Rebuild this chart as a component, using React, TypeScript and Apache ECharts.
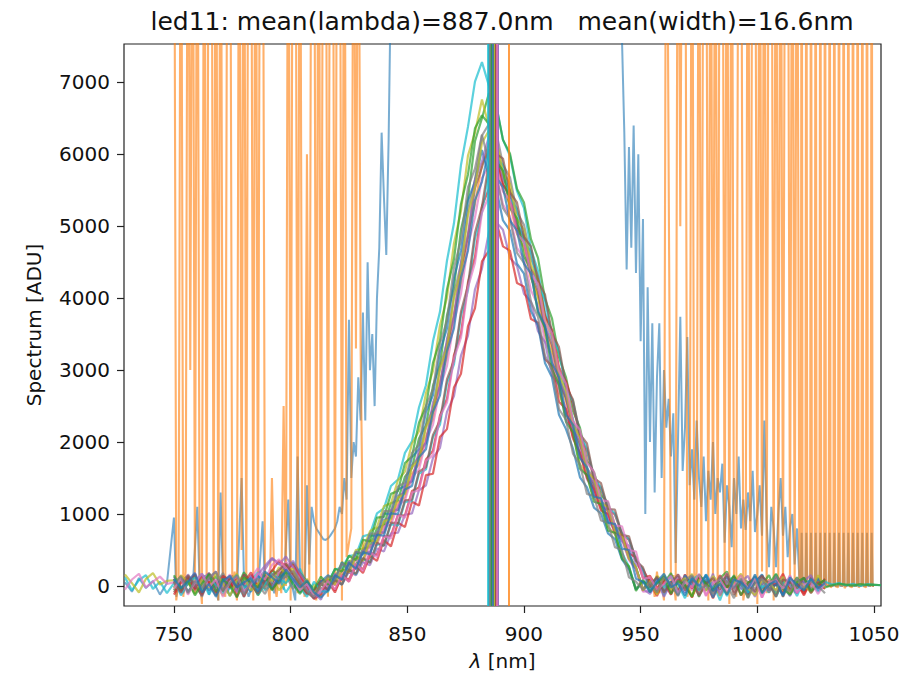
import React, { useEffect, useRef } from "react";
import * as echarts from "echarts";

const TITLE = "led11: mean(lambda)=887.0nm   mean(width)=16.6nm";
const xTicks = [750, 800, 850, 900, 950, 1000, 1050];
const yTicks = [0, 1000, 2000, 3000, 4000, 5000, 6000, 7000];

const lamLeft = [729, 732, 735, 738, 741, 744, 747];
const lamMain = [750,753,756,759,762,765,768,771,774,777,780,783,786,789,792,795,798,801,804,807,810,813,816,819,822,825,828,831,834,837,840,843,846,849,852,855,858,861,864,867,870,873,876,879,882,885,888,891,894,897,900,903,906,909,912,915,918,921,924,927,930,933,936,939,942,945,948,951,954,957,960,963,966,969,972,975,978,981,984,987,990,993,996,999,1002,1005,1008,1011,1014,1017,1020,1023,1026,1029];
const lamRight = [1032, 1035, 1038, 1041, 1044, 1047, 1050, 1053];

const spec01 = [40,-80,120,-30,90,-120,60,150,-40,20,-150,80,190,-60,30,110,-90,60,240,10,-110,50,
60,230,250,420,430,690,720,1010,1080,1390,1480,1850,2010,2480,2790,3400,3810,4520,5040,5850,6380,7010,7280,6950,6700,6200,5980,5490,5250,4680,4380,3800,3500,2920,2620,2320,1840,1660,1330,1220,900,790,460,270,-40,60,
-40,120,-130,60,20,-170,90,150,-60,40,-200,70,130,-30,-120,80,10,-90,160,-50,40,-140,90,30,-70,60];
const spec01Left = [120,-60,80,150,-40,60,-100];
const spec01Right = [20,40,10,30,0,25,15,10];

const spec02 = [-60,90,20,160,-110,40,130,-70,80,-20,190,60,-130,30,220,140,280,320,180,60,-140,30,
-50,140,110,350,290,520,540,800,850,1150,1190,1520,1640,2050,2230,2780,3080,3760,4150,4950,5380,6180,6500,6850,6700,6200,6010,5520,5330,4820,4560,3990,3720,3180,2900,2430,2200,1740,1580,1260,1160,840,740,430,260,-50,
90,-100,40,180,-60,20,130,-150,70,-30,110,200,-80,40,-160,90,20,150,-110,60,-40,120,-70,30,90,-20];
const spec02Right = [10,30,20,5,25,15,20,10];

const spec03 = [80,-40,150,30,-90,110,20,-130,60,170,-20,90,-100,40,130,-60,50,200,90,-80,20,-150,
130,120,330,290,500,520,760,820,1110,1150,1470,1590,1980,2150,2680,2990,3620,4010,4760,5210,5980,6300,6760,6380,6160,5700,5490,5030,4820,4290,4020,3490,3220,2680,2410,2130,1690,1530,1220,1120,820,720,420,250,-40,70,
-30,140,50,-90,110,-20,170,-110,30,80,-140,60,10,150,-70,40,-120,90,20,-60,130,-30,70,-90,40,10];
const spec03Left = [160,40,-90,100,180,20,70];

const spec04 = [30,130,-80,60,-150,100,40,180,-30,90,-70,140,20,-110,80,30,150,-40,100,-120,-60,70,
70,20,230,200,410,360,620,620,920,950,1250,1300,1680,1790,2230,2460,3040,3380,4050,4480,5220,5650,6260,6420,6330,5850,5680,5190,5020,4550,4310,3760,3530,2990,2750,2290,2070,1640,1490,1180,1100,790,700,400,250,-60,
60,-80,130,20,-120,90,-40,150,40,-100,70,10,-170,100,60,-50,140,-90,30,80,-130,50,110,-40,20,70];

const spec05 = [-90,60,140,-40,80,20,-130,110,50,-60,160,30,-100,90,10,170,240,120,-50,80,-160,-30,
-40,150,90,330,250,480,460,720,740,1030,1060,1370,1460,1830,1990,2480,2760,3350,3720,4410,4840,5530,5820,6150,6010,5580,5400,4950,4780,4330,4100,3590,3350,2850,2610,2180,1980,1560,1420,1120,1050,750,670,380,240,-70,
110,-60,20,150,-90,40,-150,80,130,-20,60,-110,90,30,-70,140,-40,10,100,-150,60,20,-80,120,-30,50];

const spec06 = [50,-110,70,180,-20,130,-70,40,160,-90,20,110,250,80,-40,190,330,260,150,-30,-130,40,
60,10,210,180,360,330,560,570,830,850,1120,1190,1510,1620,2010,2240,2750,3060,3670,4060,4730,5120,5670,5840,5730,5300,5140,4700,4550,4110,3900,3400,3190,2700,2480,2080,1880,1480,1350,1070,990,720,640,360,230,-80,
-70,100,30,-120,160,40,-60,120,-140,70,20,180,-90,50,-30,110,-160,80,40,-50,150,-100,60,10,-40,90];
const spec06Left = [-50,90,170,-20,60,130,30];

const spec07 = [-120,40,110,-60,150,30,-90,80,-20,130,-150,60,20,170,-50,90,230,300,140,-10,-180,-120,
90,-60,130,90,300,230,460,430,690,700,990,980,1320,1370,1760,1880,2370,2600,3210,3510,4220,4570,5280,5520,5960,5580,5440,4990,4850,4400,4260,3750,3560,3040,2850,2530,2070,1880,1480,1350,1070,990,720,640,360,230,
50,-140,90,10,-80,160,-30,120,40,-170,70,-20,130,20,-110,60,150,-60,30,-100,90,40,-130,70,-20,100];

const spec08 = [70,-50,160,20,-130,90,200,-40,110,30,-90,150,60,230,380,300,410,260,90,-60,-170,-90,
-30,100,20,200,150,330,290,520,480,730,740,990,1010,1330,1400,1780,1920,2420,2640,3200,3480,4120,4410,4920,5060,4950,4560,4450,4060,3950,3540,3390,2920,2790,2310,2190,1790,1630,1280,1170,920,860,620,560,310,200,
-60,80,-150,50,130,-40,70,-120,160,20,-80,110,-30,60,140,-100,40,-60,120,10,-140,80,30,-50,110,0];

const spec09 = [100,-70,30,160,-110,60,-20,140,80,-150,40,190,-30,100,210,350,280,170,40,-110,-60,80,
60,-90,150,60,280,180,420,350,640,550,880,820,1170,1120,1540,1560,2070,2180,2760,2950,3610,3860,4510,4660,5080,4720,4660,4210,4160,3710,3660,3150,3060,2560,2460,2050,1850,1500,1350,1050,1000,750,700,450,400,110,
140,-30,60,-120,90,20,-160,110,50,-70,150,-20,80,-130,40,120,-90,60,10,170,-60,30,-110,90,50,-40];

const spec10 = [-20,120,-90,50,170,-60,30,100,-140,60,10,-80,140,50,-30,120,200,70,-90,30,-140,60,
150,80,330,220,470,440,700,700,1010,1000,1340,1390,1790,1900,2420,2650,3260,3580,4280,4660,5360,5620,6060,5690,5540,5080,4940,4480,4340,3820,3620,3100,2900,2380,2180,1910,1510,1370,1090,1010,730,650,370,230,-50,60,
30,110,-70,60,-130,150,20,-50,90,-160,40,130,-10,70,-100,50,160,-40,20,-120,90,30,60,-80,110,-10];

const spec11 = [130,-40,60,-100,90,180,-50,20,140,-80,70,-10,160,280,390,310,220,350,180,40,-90,-190,
40,170,80,340,230,500,460,750,750,1060,1060,1410,1460,1890,1990,2550,2780,3430,3750,4500,4880,5640,5900,6250,6130,5650,5500,5020,4870,4390,4180,3630,3420,2880,2660,2220,2010,1590,1440,1140,1060,770,680,390,240,-40,
-110,40,150,-30,80,-90,130,10,-60,170,-130,50,100,-40,20,-150,90,40,-70,120,0,-100,70,150,-60,30];

const spec12 = [90,-130,40,120,-60,170,20,-100,60,150,-40,80,-120,30,180,100,40,150,-20,-150,60,-70,
-80,90,20,230,160,380,330,580,560,860,840,1170,1180,1560,1620,2070,2240,2820,3080,3760,4110,4830,5190,5790,5940,5850,5380,5240,4780,4640,4180,3980,3460,3260,2740,2570,2110,1910,1510,1370,1090,1010,730,650,370,230,
-40,70,-20,140,-110,30,90,-60,160,-20,50,-140,80,20,-90,130,-30,60,-150,40,100,-50,10,90,-80,20];

const spec13 = [-30,150,60,-110,90,-20,170,40,-140,80,120,-60,30,190,70,260,180,240,-40,100,-120,20,
110,20,230,190,400,350,640,610,900,930,1230,1280,1650,1760,2200,2420,3010,3310,4000,4390,5150,5540,6160,6330,6230,5740,5590,5100,4950,4460,4250,3700,3480,2930,2710,2230,2070,1590,1490,1140,1100,760,710,380,260,-60,
70,-120,160,-40,30,110,-150,90,-70,140,20,-100,60,170,-30,-130,80,40,-60,130,-110,70,10,-90,150,-20];

const spec14 = [60,-90,140,10,-130,180,50,-70,110,-20,160,30,-110,70,140,220,310,150,20,-90,-170,40,
-60,80,20,230,170,390,320,600,560,880,870,1190,1200,1590,1650,2100,2300,2870,3140,3810,4180,4910,5270,5890,6010,5940,5470,5330,4850,4720,4240,4050,3510,3320,2780,2590,2110,1980,1500,1430,1070,1060,710,690,350,260,
-20,130,-90,40,160,-60,80,-140,30,110,-50,170,-120,60,10,-80,140,30,-150,90,50,-30,120,-100,40,70];

const spec15 = [150,-40,70,-130,30,160,-80,90,10,-160,120,50,-20,150,-60,80,190,30,-110,60,-50,130,
20,240,200,420,360,640,620,950,960,1280,1320,1710,1800,2270,2490,3100,3410,4120,4540,5310,5720,6360,6540,6420,5910,5770,5250,5110,4590,4380,3800,3590,3010,2800,2280,2140,1630,1540,1170,1140,770,740,380,270,-70,90,
-80,40,130,-110,70,10,-150,160,30,-60,100,-20,150,-130,50,80,-90,20,170,-40,-120,60,110,-70,20,90];

const spec16 = [-40,110,-120,50,170,-10,90,-150,60,130,-70,20,180,90,290,370,250,110,-60,30,-140,-60,
70,-50,150,60,310,210,470,400,700,660,990,950,1300,1330,1740,1820,2350,2550,3160,3450,4150,4490,5190,5420,5870,5480,5360,4900,4780,4320,4200,3680,3510,2990,2810,2290,2170,1710,1590,1190,1180,840,830,500,480,100,
120,-50,30,140,-100,60,-20,170,-130,40,90,-70,10,150,-40,100,-160,50,80,-30,130,-90,20,60,-110,40];

const spec17 = [20,140,-100,70,-30,120,200,-60,40,150,-120,60,100,-40,170,90,130,210,60,-70,-150,10,
130,90,310,250,480,450,730,720,1040,1040,1380,1440,1850,1960,2500,2730,3370,3690,4420,4810,5540,5800,6270,5880,5730,5250,5100,4630,4490,3950,3740,3200,3000,2460,2310,1840,1690,1280,1250,910,880,540,500,120,60,-50,
50,-90,120,30,-140,80,150,-50,10,-110,130,60,-30,100,-170,40,90,-60,140,20,-80,110,-40,70,0,-100];

const spec18 = [100,-30,60,180,-90,30,-150,70,140,-20,50,110,-80,200,120,40,230,100,-20,80,-90,-160,
-60,150,90,320,240,470,440,710,700,1010,1000,1340,1390,1790,1900,2420,2650,3260,3580,4280,4660,5360,5620,6070,5690,5540,5080,4940,4480,4340,3820,3620,3100,2900,2380,2240,1780,1640,1240,1220,880,860,520,500,100,60,
-90,60,170,-20,40,-130,110,0,150,-70,30,-120,90,50,-40,160,-100,20,70,-140,120,10,-60,100,-30,40];

// saturated / bad-pixel spectrum (orange, spikes clipped at the top)
const orangeSpikes: [number, number][] = [
[750,12000],[751,-200],[752,100],[753,12000],[754,-150],[755,200],[756,12000],[757,3000],[758,12000],[759,-100],
[760,12000],[761,150],[762,-250],[763,12000],[764,-50],[765,12000],[766,12000],[767,0],[768,12000],[769,-200],
[770,12000],[771,100],[772,-150],[773,12000],[774,12000],[775,-100],[776,200],[777,-200],[778,12000],[779,500],
[780,12000],[781,-100],[782,12000],[783,12000],[784,-200],[785,12000],[786,150],[787,12000],[788,12000],[789,-50],
[790,100],[791,-200],[792,1500],[793,50],[794,-150],[795,200],[796,-100],[797,2500],[798,0],[799,12000],
[800,-200],[801,12000],[802,12000],[803,-100],[804,12000],[805,200],[806,-150],[807,6000],[808,-50],[809,12000],
[810,12000],[811,-200],[812,12000],[813,100],[814,12000],[815,12000],[816,-150],[817,12000],[818,12000],[819,0],
[820,12000],[821,12000],[822,-200],[823,12000],[824,400],[825,600],[826,800],[827,12000],[828,3300],[829,12000],
[830,3300],[831,500],
[834,560],[837,600],[840,850],[843,900],[846,1160],[849,1230],[852,1560],[855,1690],[858,2080],[861,2320],
[864,2850],[867,3180],[870,3790],[873,4210],[876,4890],[879,5310],[882,5860],[885,6050],[888,5900],[891,5500],
[894,5300],[897,4890],[900,4700],[903,4280],[906,4030],[909,3540],[912,3300],[915,2810],[918,2570],[921,2080],
[924,1950],[927,1530],[930,1400],[933,1100],[936,1030],[939,720],[942,660],[945,380],[948,240],[951,-40],[954,40],
[955,100],[956,-150],[957,200],[958,-100],[959,50],[960,-200],[961,12000],[962,5800],[963,-100],[964,150],
[965,-200],[966,12000],[967,5000],[968,12000],[969,12000],[970,-150],[971,100],[972,12000],[973,-100],[974,200],
[975,12000],[976,-50],[977,12000],[978,12000],[979,-200],[980,12000],[981,150],[982,12000],[983,-100],[984,12000],
[985,12000],[986,0],[987,12000],[988,-250],[989,12000],[990,100],[991,-150],[992,12000],[993,12000],[994,-200],
[995,50],[996,12000],[997,-100],[998,12000],[999,12000],[1000,-250],[1001,12000],[1002,200],[1003,12000],[1004,-100],
[1005,12000],[1006,12000],[1007,-200],[1008,12000],[1009,100],[1010,12000],[1011,-150],[1012,12000],[1013,12000],[1014,0],
[1015,12000],[1016,-100],[1017,12000],[1018,100],
[1018.6,0],[1019,12000],[1019.4,-50],[1020.6,50],[1021,12000],[1021.4,0],[1022.6,-50],[1023,12000],[1023.4,50],
[1024.6,0],[1025,12000],[1025.4,-30],[1026.6,30],[1027,12000],[1027.4,0],[1028.6,-30],[1029,12000],[1029.4,30],
[1030.6,0],[1031,12000],[1031.4,-20],[1032.6,20],[1033,12000],[1033.4,0],[1034.6,-20],[1035,12000],[1035.4,20],
[1036.6,0],[1037,12000],[1037.4,-30],[1038.6,30],[1039,12000],[1039.4,0],[1040.6,-20],[1041,12000],[1041.4,20],
[1042.6,0],[1043,12000],[1043.4,-20],[1044.6,20],[1045,12000],[1045.4,0],[1046.6,-20],[1047,12000],[1047.4,20],
[1048.6,0],[1049,12000],[1049.4,0],[1050,0]
];

// broad, over-exposed spectrum (blue, clipped between ~843 and ~942 nm)
const blueBroad: [number, number][] = [
[729,50],[732,-80],[735,110],[738,-30],[741,70],[744,-120],[747,40],
[750,950],[751,-150],[752,60],[754,-100],[756,120],[758,-50],[760,1100],[761,0],[763,150],[765,-120],[767,80],[769,-200],
[770,1300],[771,50],[773,-100],[775,150],[777,-60],[779,1500],[780,100],[782,-150],[784,60],[786,-80],[788,900],[789,0],
[791,120],[793,-100],[795,200],[797,-50],[799,1200],[800,100],[802,-200],[803,1800],[804,200],[806,-100],[807,1400],[808,300],
[809,1100],[810,900],[811,800],[812,750],[813,700],[814,650],[815,640],[816,660],[817,700],[818,750],[819,800],[820,900],
[821,1100],[822,1000],[823,1500],[824,1200],[825,3700],[826,1500],[827,2000],[828,1800],[829,2900],[830,2300],[831,3800],
[832,2300],[833,4500],[834,3000],[835,3500],[836,2500],[837,4000],[838,4700],[839,6300],[840,5400],[841,4600],[842,6200],
[843,8500],[846,9500],[855,12000],[870,14000],[885,15000],[900,14000],[915,12500],[930,10000],[938,8800],[941,8000],[942,7600],
[943,6300],[944,4400],[945,6100],[946,4700],[947,6400],[948,4350],[949,6000],[950,3400],[951,5100],[952,1000],
[953,4150],[954,2000],[955,3650],[956,1300],[957,2900],[958,3650],[959,1500],[960,3000],[961,2200],[962,2600],
[963,1800],[964,2400],[965,320],[966,2000],[967,3740],[968,1600],[969,2200],[970,3460],[971,1400],[972,1900],
[973,1200],[974,2300],[975,1500],[976,1100],[977,1800],[978,900],[979,1600],[980,1200],[981,2000],[982,1000],
[983,1500],[984,1300],[985,1700],[986,600],[987,1400],[988,1100],[989,540],[990,1500],[991,1000],[992,1800],
[993,800],[994,1200],[995,780],[996,1300],[997,900],[998,1600],[999,750],[1000,1000],[1001,1400],[1002,700],
[1003,2300],[1004,900],[1005,260],[1006,1100],[1007,800],[1008,260],[1009,1000],[1010,1500],[1011,700],[1012,1100],
[1013,400],[1014,820],[1015,1000],[1016,300],[1017,800],[1018,100],
[1018.6,0],[1019,740],[1019.4,0],[1020.6,0],[1021,740],[1021.4,0],[1022.6,0],[1023,740],[1023.4,0],
[1024.6,0],[1025,740],[1025.4,0],[1026.6,0],[1027,740],[1027.4,0],[1028.6,0],[1029,740],[1029.4,0],
[1030.6,0],[1031,740],[1031.4,0],[1032.6,0],[1033,740],[1033.4,0],[1034.6,0],[1035,740],[1035.4,0],
[1036.6,0],[1037,740],[1037.4,0],[1038.6,0],[1039,740],[1039.4,0],[1040.6,0],[1041,740],[1041.4,0],
[1042.6,0],[1043,740],[1043.4,0],[1044.6,0],[1045,740],[1045.4,0],[1046.6,0],[1047,740],[1047.4,0],
[1048.6,0],[1049,740],[1049.4,0],[1050,0]
];

const curveColors = ["#17becf","#2ca02c","#bcbd22","#7f7f7f","#8c564b","#e377c2","#d62728","#9467bd","#d62728","#1f77b4","#9467bd","#17becf",
  "#bcbd22","#8c564b","#2ca02c","#e377c2","#7f7f7f","#1f77b4"];
const curveVals = [spec01, spec02, spec03, spec04, spec05, spec06, spec07, spec08, spec09, spec10, spec11, spec12,
  spec13, spec14, spec15, spec16, spec17, spec18];
const curveLeft = [spec01Left, null, spec03Left, null, null, spec06Left, null, null, null, null, null, null,
  null, null, null, null, null, null];
const curveRight = [spec01Right, spec02Right, null, null, null, null, null, null, null, null, null, null,
  null, null, null, null, null, null];
// mean wavelength of each spectrum (vertical lines)
const meanLambda = [884.6, 886.4, 887.3, 887.0, 886.8, 886.1, 887.7, 888.9, 888.3, 885.7, 888.6, 885.3,
  887.2, 888.0, 885.9, 888.4, 885.5, 886.6];
const meanOrange = 893.5;
const meanBlue = 885.0;

const FONT = "DejaVu Sans";

function pairs(xs: number[], ys: number[] | null): [number, number][] {
  if (!ys) return [];
  return ys.map((y, i) => [xs[i], y] as [number, number]);
}

export default function App() {
  const ref = useRef<HTMLDivElement>(null);
  useEffect(() => {
    document.body.style.margin = "0";
    if (!ref.current) return;
    const chart = echarts.init(ref.current, null, { renderer: "svg" });
    const lineOpts = (color: string, width: number, opacity: number) => ({
      type: "line",
      showSymbol: false,
      symbol: "none",
      silent: true,
      clip: true,
      lineStyle: { color, width, opacity },
      itemStyle: { color },
      emphasis: { disabled: true },
    });
    const series: any[] = [];
    series.push({ ...lineOpts("#1f77b4", 2, 0.6), name: "blue", data: blueBroad });
    series.push({ ...lineOpts("#ff7f0e", 2.1, 0.62), name: "orange", data: orangeSpikes });
    curveVals.forEach((vals, i) => {
      const data = [
        ...pairs(lamLeft, curveLeft[i]),
        ...pairs(lamMain, vals),
        ...pairs(lamRight, curveRight[i]),
      ];
      series.push({ ...lineOpts(curveColors[i], 2.2, 0.7), name: "s" + i, data });
    });
    const vlines = [
      { xAxis: meanBlue, lineStyle: { color: "#1f77b4" } },
      { xAxis: meanOrange, lineStyle: { color: "#ff7f0e" } },
      ...meanLambda.map((m, i) => ({ xAxis: m, lineStyle: { color: curveColors[i] } })),
    ];
    series.push({
      type: "line",
      name: "means",
      data: [],
      silent: true,
      markLine: {
        silent: true,
        symbol: ["none", "none"],
        animation: false,
        label: { show: false },
        lineStyle: { type: "solid", width: 1.8, opacity: 0.85 },
        emphasis: { disabled: true },
        data: vlines,
      },
    });

    const fmt = (v: number) => String(v);
    chart.setOption({
      animation: false,
      grid: {
        left: 124, top: 44, right: 43, bottom: 72,
        show: true, borderColor: "#222", borderWidth: 1.2,
        containLabel: false, outerBoundsMode: "none",
      },
      graphic: [
        {
          type: "text",
          x: 502, y: 21,
          style: {
            text: TITLE, fontSize: 25, fontFamily: FONT, fill: "#111",
            align: "center", verticalAlign: "middle",
          },
        },
      ],
      xAxis: {
        type: "value", min: 728.6, max: 1053,
        name: "{i|λ} [nm]", nameLocation: "middle", nameGap: 45,
        nameTextStyle: {
          fontSize: 20, fontFamily: FONT, color: "#111",
          rich: { i: { fontStyle: "italic", fontSize: 20, fontFamily: FONT, color: "#111" } },
        },
        axisLine: { show: false, onZero: false },
        splitLine: { show: false },
        axisTick: { show: true, length: 7, customValues: xTicks, lineStyle: { color: "#222", width: 1.2 } },
        axisLabel: { customValues: xTicks, formatter: fmt, fontSize: 20, fontFamily: FONT, color: "#111", margin: 18 },
      },
      yAxis: {
        type: "value", min: -278, max: 7532,
        name: "Spectrum [ADU]", nameLocation: "middle", nameGap: 80,
        nameTextStyle: { fontSize: 20, fontFamily: FONT, color: "#111" },
        axisLine: { show: false, onZero: false },
        splitLine: { show: false },
        axisTick: { show: true, length: 7, customValues: yTicks, lineStyle: { color: "#222", width: 1.2 } },
        axisLabel: { customValues: yTicks, formatter: fmt, fontSize: 20, fontFamily: FONT, color: "#111", margin: 14 },
      },
      series,
    });
    return () => chart.dispose();
  }, []);
  return <div ref={ref} style={{ width: 924, height: 678 }} />;
}
